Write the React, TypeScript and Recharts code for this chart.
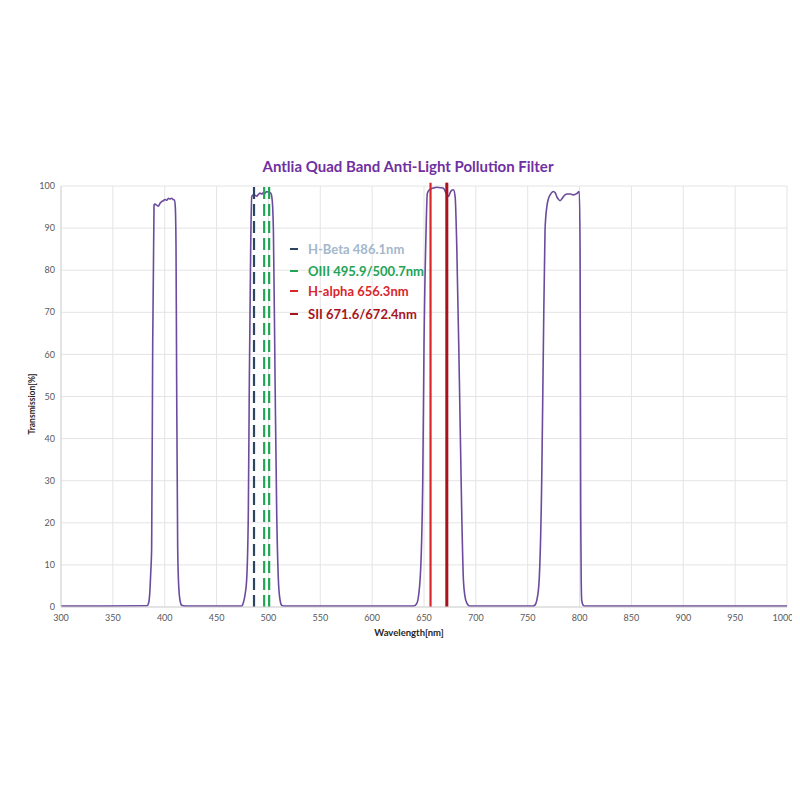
import React from "react";
import {
  LineChart,
  Line,
  XAxis,
  YAxis,
  CartesianGrid,
  ReferenceLine,
} from "recharts";

// Transmission curve (nm -> %)
const wavelengthNm = [
  300, 340, 383, 384.5, 385.5, 386.5, 387.4, 388.4, 389.7, 390.6, 392, 393.8,
  395.5, 397.1, 398.7, 400.3, 402, 403.5, 405, 406.7, 408, 409.3, 410.2, 410.9,
  411.5, 412.5, 413.5, 414.8, 416.3, 420, 474, 475.8, 477.5, 479, 480.6, 481.6,
  482.9, 483.9, 485.5, 487, 488.7, 490.3, 491.9, 493.5, 495, 496.7, 498.4, 500,
  501.5, 502.5, 503.2, 504.1, 504.8, 506.4, 508, 509.6, 511, 512.8, 515, 640,
  643, 646.2, 648.8, 650, 652, 653.2, 655.8, 659, 662.3, 666, 669, 671.3,
  673.5, 675, 676.8, 678.4, 680, 681.6, 684.1, 686.4, 688, 689.5, 691.2, 694.4,
  755, 757.1, 760.3, 763.5, 765.1, 766.7, 768.4, 770, 771.6, 774.8, 776.5, 778,
  779.5, 781.2, 782.8, 784.5, 786, 787.7, 791, 794, 797.3, 799.8, 800.5, 801.1,
  801.6, 802.1, 803.5, 805.3, 900, 1000,
];

const transmissionPct = [
  0.2, 0.2, 0.3, 1, 3, 8, 14, 62, 95.5, 95.7, 95.5, 95.2, 95.9, 96.3, 96.5,
  96.8, 96.6, 97.1, 96.9, 97.1, 96.8, 96.7, 95, 85.6, 54, 14, 5, 1.5, 0.4, 0.2,
  0.2, 1, 3, 6.4, 22, 54, 85.6, 97.5, 97.9, 97.8, 97.6, 98, 98.3, 98.1, 98.4,
  98.3, 98.7, 98.5, 98.4, 98.2, 97.5, 95, 89.5, 54, 22, 6.4, 2, 0.4, 0.2, 0.2,
  0.8, 6.4, 30, 62, 89.5, 98.3, 99.2, 99.5, 99.7, 99.6, 99.4, 98.3, 97.5, 98.3,
  99, 99.1, 97.5, 85.6, 54, 22, 6.4, 2.5, 1, 0.2, 0.2, 0.5, 4, 30, 62, 89.5,
  95, 97, 97.9, 98.7, 98.4, 97.5, 96.9, 96.5, 96.9, 97.5, 97.9, 98.1, 98.1,
  97.9, 98.2, 98.7, 85, 22, 6, 1.5, 0.4, 0.2, 0.2, 0.2,
];

const xTicks = [
  300, 350, 400, 450, 500, 550, 600, 650, 700, 750, 800, 850, 900, 950, 1000,
];
const yTicks = [0, 10, 20, 30, 40, 50, 60, 70, 80, 90, 100];

// emission lines
const lineLabels = [
  "H-Beta 486.1nm",
  "OIII 495.9/500.7nm",
  "H-alpha 656.3nm",
  "SII 671.6/672.4nm",
];
const lineWavelengths = [[486.1], [495.9, 500.7], [656.3], [671.6, 672.4]];

const lineColors = ["#2c4662", "#22a456", "#d8262b", "#a8141c"];
const labelColors = ["#a4b7cc", "#22a456", "#d8262b", "#a8141c"];
const lineDashed = [true, true, false, false];

const data = wavelengthNm.map((nm, i) => ({ nm, t: transmissionPct[i] }));

const font = "Lato, 'Liberation Sans', sans-serif";

export default function App() {
  return (
    <div style={{ position: "relative", width: 784, height: 784, fontFamily: font }}>
      <style>{`.recharts-surface, .recharts-wrapper { overflow: visible !important; }`}</style>
      <div
        style={{
          position: "absolute",
          left: 400,
          top: 149,
          transform: "translateX(-50%)",
          whiteSpace: "nowrap",
          fontSize: 15,
          fontWeight: 700,
          color: "#7030a0",
        }}
      >
        Antlia Quad Band Anti-Light Pollution Filter
      </div>

      <LineChart
        width={784}
        height={784}
        data={data}
        margin={{ top: 178, right: 5, left: 13, bottom: 145 }}
      >
        <CartesianGrid stroke="#e4e4e4" />
        <XAxis
          dataKey="nm"
          type="number"
          domain={[300, 1000]}
          ticks={xTicks}
          tickLine={false}
          axisLine={{ stroke: "#d6d6d6" }}
          tick={{ fontSize: 9, fill: "#595959", fontFamily: font }}
          height={40}
        />
        <YAxis
          type="number"
          domain={[0, 100]}
          ticks={yTicks}
          tickLine={false}
          tickSize={4}
          axisLine={{ stroke: "#d6d6d6" }}
          tick={{ fontSize: 9, fill: "#595959", fontFamily: font }}
          width={40}
        />
        <Line
          dataKey="t"
          type="monotone"
          stroke="#6b4b9e"
          strokeWidth={1.6}
          dot={false}
          isAnimationActive={false}
        />
        {lineWavelengths.map((group, gi) =>
          group.map((w) => (
            <ReferenceLine
              key={`${gi}-${w}`}
              segment={[
                { x: w, y: 0 },
                { x: w, y: 100.8 },
              ]}
              ifOverflow="visible"
              stroke={lineColors[gi]}
              strokeWidth={2.2}
              strokeDasharray={lineDashed[gi] ? "12 5" : undefined}
            />
          ))
        )}
      </LineChart>

      {/* legend */}
      {lineLabels.map((label, i) => (
        <div
          key={label}
          style={{
            position: "absolute",
            left: 282,
            top: [241, 262.5, 283, 306][i] - 8,
            height: 16,
            display: "flex",
            alignItems: "center",
            whiteSpace: "nowrap",
          }}
        >
          <div
            style={{
              width: 8,
              height: 2,
              background: lineColors[i],
              marginRight: 10,
            }}
          />
          <span style={{ fontSize: 13, fontWeight: 700, color: labelColors[i] }}>
            {label}
          </span>
        </div>
      ))}

      <div
        style={{
          position: "absolute",
          left: 401,
          top: 619,
          transform: "translateX(-50%)",
          fontSize: 9.5,
          fontWeight: 700,
          color: "#262626",
          whiteSpace: "nowrap",
        }}
      >
        Wavelength[nm]
      </div>
      <div
        style={{
          position: "absolute",
          left: 24,
          top: 396,
          transform: "translate(-50%, -50%) rotate(-90deg)",
          fontSize: 8.5,
          fontWeight: 700,
          color: "#262626",
          whiteSpace: "nowrap",
        }}
      >
        Transmission[%]
      </div>
    </div>
  );
}
